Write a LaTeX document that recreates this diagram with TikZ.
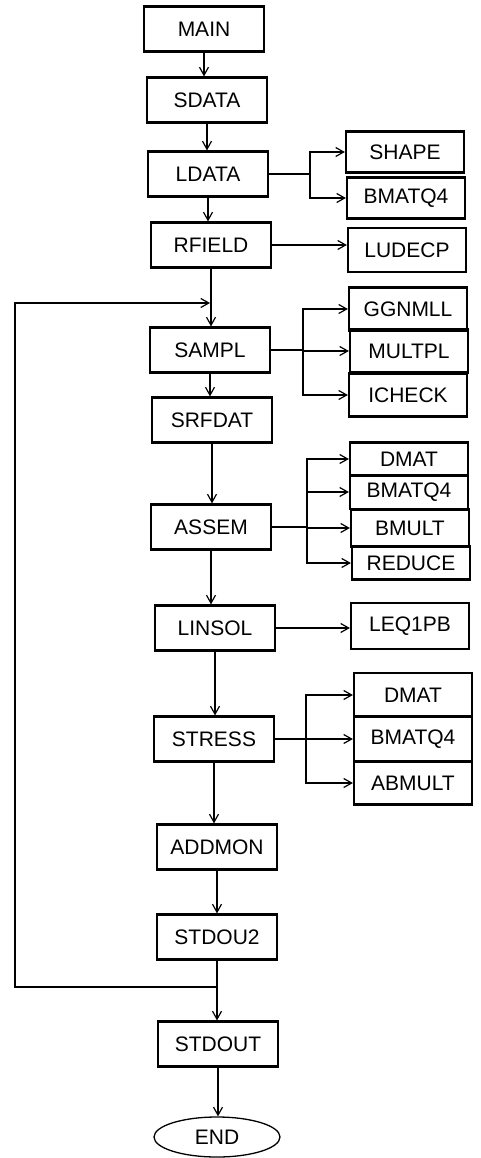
\documentclass[tikz,border=0pt]{standalone}
\usepackage{fontspec}
\setmainfont{Liberation Sans}
\usetikzlibrary{arrows.meta,shapes.geometric}
\begin{document}
\begin{tikzpicture}[x=1pt,y=-1pt,>={Straight Barb[length=8pt,width=9pt]},
    prog/.style={draw,line width=2.2pt,minimum width=120,minimum height=45,
      inner sep=0pt,font=\fontsize{21}{25}\selectfont},
    sub/.style={prog,minimum width=118},
    link/.style={line width=1.2pt}]
    \useasboundingbox (0,0) rectangle (481,1158);
    % colonna principale
    \node[prog] (main) at (204,29) {MAIN};
    \node[prog] (sdata) at (207,100) {SDATA};
    \node[prog] (ldata) at (208,174) {LDATA};
    \node[prog] (rfield) at (211,245) {RFIELD};
    \node[prog] (sampl) at (210,350) {SAMPL};
    \node[prog] (srfdat) at (212,420) {SRFDAT};
    \node[prog] (assem) at (211,527) {ASSEM};
    \node[prog] (linsol) at (215,628) {LINSOL};
    \node[prog] (stress) at (214,739) {STRESS};
    \node[prog] (addmon) at (217,847) {ADDMON};
    \node[prog] (stdou2) at (217,937) {STDOU2};
    \node[prog] (stdout) at (218,1044) {STDOUT};
    \node[ellipse,draw,line width=1.3pt,minimum width=126,minimum height=40,
      inner sep=0pt,font=\fontsize{21}{25}\selectfont] (end) at (217,1137) {END};
    % sottoprogrammi
    \node[sub,minimum height=41] (shape) at (405,152) {SHAPE};
    \node[sub,minimum height=41] (bmatqa) at (406,198) {BMATQ4};
    \node[sub,minimum height=44] (ludecp) at (407,250) {LUDECP};
    \node[sub,minimum height=43] (ggnmll) at (408,309) {GGNMLL};
    \node[sub,minimum height=43] (multpl) at (409,351) {MULTPL};
    \node[sub,minimum height=43] (icheck) at (408,395) {ICHECK};
    \node[sub,minimum height=33] (dmata) at (409,459) {DMAT};
    \node[sub,minimum height=34] (bmatqb) at (409,492) {BMATQ4};
    \node[sub,minimum height=37] (bmult) at (410,528) {BMULT};
    \node[sub,minimum height=33] (reduce) at (411,563) {REDUCE};
    \node[sub,minimum height=46] (leqpb) at (410,626) {LEQ1PB};
    \node[sub,minimum height=44] (dmatb) at (413,695) {DMAT};
    \node[sub,minimum height=45] (bmatqc) at (413,739) {BMATQ4};
    \node[sub,minimum height=43] (abmult) at (413,783) {ABMULT};
    % frecce verticali
    \foreach \a/\b in {main/sdata,sdata/ldata,ldata/rfield,rfield/sampl,
        sampl/srfdat,srfdat/assem,assem/linsol,linsol/stress,stress/addmon,
        addmon/stdou2,stdou2/stdout,stdout/end}
      \draw[link,->] (\a.south) -- (\a.south |- \b.north);
    % ciclo di ritorno
    \coordinate (back) at (217,987);
    \coordinate (join) at (210,303);
    \draw[link,->] (back) -- ++(-202,0) |- (join);
    % diramazioni
    \coordinate (sp1) at (310,174);
    \draw[link] (ldata.east) -- (sp1);
    \foreach \n in {shape,bmatqa}
      \draw[link,->] (sp1) |- (\n.west);
    \draw[link,->] (rfield.east) -- (rfield.east -| ludecp.west);
    \coordinate (sp2) at (303,350);
    \draw[link] (sampl.east) -- (sp2);
    \foreach \n in {ggnmll,multpl,icheck}
      \draw[link,->] (sp2) |- (\n.west);
    \coordinate (sp3) at (307,527);
    \draw[link] (assem.east) -- (sp3);
    \foreach \n in {dmata,bmatqb,bmult,reduce}
      \draw[link,->] (sp3) |- (\n.west);
    \draw[link,->] (linsol.east) -- (linsol.east -| leqpb.west);
    \coordinate (sp4) at (306,739);
    \draw[link] (stress.east) -- (sp4);
    \foreach \n in {dmatb,bmatqc,abmult}
      \draw[link,->] (sp4) |- (\n.west);
\end{tikzpicture}
\end{document}
